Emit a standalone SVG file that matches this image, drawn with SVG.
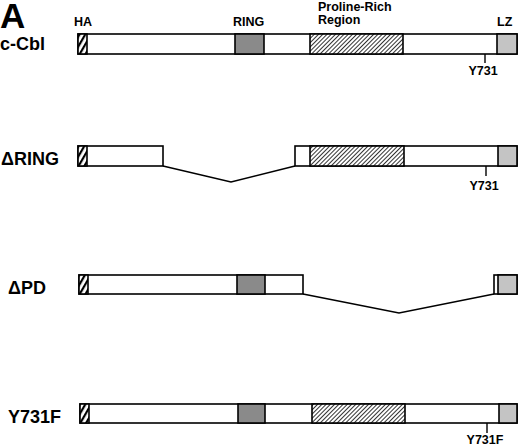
<svg xmlns="http://www.w3.org/2000/svg" width="520" height="447" viewBox="0 0 520 447">
<defs>
<pattern id="ha" patternUnits="userSpaceOnUse" width="5" height="5" patternTransform="rotate(30)">
<rect width="5" height="5" fill="#fff"/><rect width="2.2" height="5" fill="#000"/>
</pattern>
<pattern id="pro" patternUnits="userSpaceOnUse" width="3" height="3" patternTransform="rotate(45)">
<rect width="3" height="3" fill="#fff"/><rect width="1" height="3" fill="#333"/>
</pattern>
</defs>
<style>
.bx{stroke:#000;stroke-width:1.6;fill:#fff}
.ha{fill:url(#ha);stroke:#000;stroke-width:1.6}
.ring{fill:#8a8a8a;stroke:#000;stroke-width:1.6}
.pro{fill:url(#pro);stroke:#000;stroke-width:1.6}
.lz{fill:#c4c4c4;stroke:#000;stroke-width:1.6}
.ln{stroke:#000;stroke-width:1.4;fill:none}
text{font-family:"Liberation Sans",Arial,sans-serif;font-weight:bold;fill:#000}
.nm{font-size:18px}
.sm{font-size:12.5px}
</style>
<text x="0" y="27.5" style="font-size:35px">A</text>
<text x="74" y="26" class="sm">HA</text>
<text x="233" y="26" class="sm">RING</text>
<text x="318" y="11" class="sm">Proline-Rich</text>
<text x="318" y="24" class="sm">Region</text>
<text x="497" y="26" class="sm">LZ</text>

<g id="ccbl">
<text x="0" y="50" class="nm">c-Cbl</text>
<rect class="bx" x="78" y="34" width="439" height="20"/>
<rect class="ha" x="78" y="34" width="9" height="20"/>
<rect class="ring" x="235" y="34" width="29" height="20"/>
<rect class="pro" x="310" y="34" width="93" height="20"/>
<rect class="lz" x="497" y="34" width="20" height="20"/>
<line class="ln" x1="485" y1="54" x2="485" y2="63"/>
<text x="483" y="75" class="sm" text-anchor="middle">Y731</text>
</g>

<g id="dring">
<text x="1" y="165" class="nm">ΔRING</text>
<rect class="bx" x="78" y="146" width="85" height="20"/>
<rect class="ha" x="78" y="146" width="9" height="20"/>
<rect class="bx" x="295" y="146" width="222" height="20"/>
<rect class="pro" x="310" y="146" width="94" height="20"/>
<rect class="lz" x="498" y="146" width="19" height="20"/>
<line class="ln" x1="486" y1="166" x2="486" y2="176"/>
<text x="484" y="190" class="sm" text-anchor="middle">Y731</text>
</g>

<g id="dpd">
<text x="8" y="294" class="nm">ΔPD</text>
<rect class="bx" x="79" y="275" width="224" height="19"/>
<rect class="ha" x="79" y="275" width="9" height="19"/>
<rect class="ring" x="237" y="275" width="28" height="19"/>
<rect class="bx" x="494" y="275" width="23" height="19"/>
<rect class="lz" x="498" y="275" width="19" height="19"/>
</g>

<g id="y731f">
<text x="8" y="423" class="nm">Y731F</text>
<rect class="bx" x="80" y="404" width="437" height="19"/>
<rect class="ha" x="80" y="404" width="9" height="19"/>
<rect class="ring" x="238" y="404" width="27" height="19"/>
<rect class="pro" x="312" y="404" width="93" height="19"/>
<rect class="lz" x="499" y="404" width="18" height="19"/>
<line class="ln" x1="487" y1="423" x2="487" y2="433"/>
<text x="485" y="444" class="sm" text-anchor="middle">Y731F</text>
</g>

<g id="connectors">
<polyline class="ln" points="163,166 231,182 295,166"/>
<polyline class="ln" points="303,294 399,313 494,294"/>
</g>
</svg>
